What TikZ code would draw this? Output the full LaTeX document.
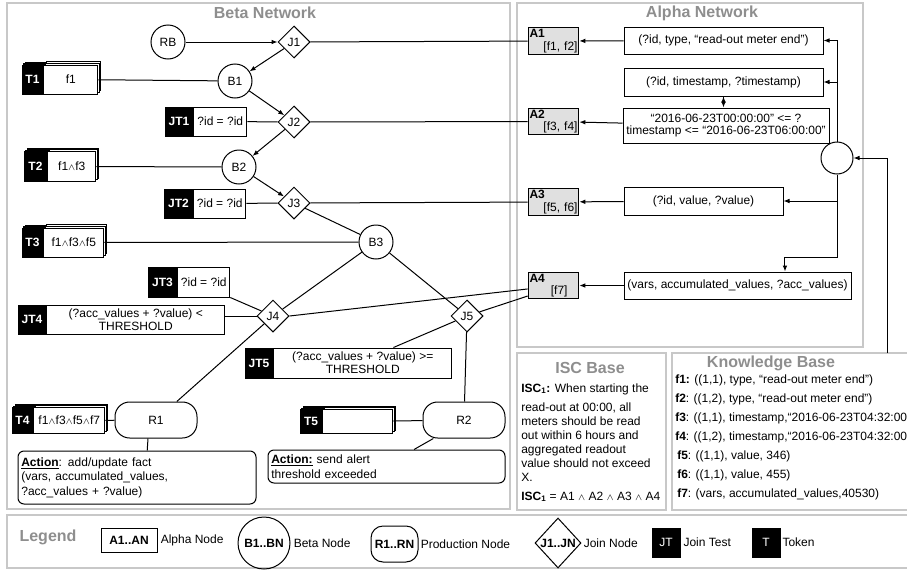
\documentclass[tikz,border=0pt]{standalone}
\usepackage{fontspec}
\setmainfont{Liberation Sans}
\usetikzlibrary{arrows.meta, positioning, shapes.geometric, shadows}
\definecolor{framegray}{HTML}{C8C8C8}
\definecolor{titlegray}{HTML}{8E8E8E}
\definecolor{alphafill}{HTML}{E0E0E0}
\newcommand{\andsym}{{\fontsize{7}{7}\selectfont$\wedge$}}

\begin{document}
\begin{tikzpicture}[x=0.75pt, y=-0.75pt, font=\fontsize{9}{10.5}\selectfont]
                \tikzstyle{frame} = [draw=framegray, line width=1pt];
                \tikzstyle{title} = [font=\fontsize{12}{14}\selectfont\bfseries, text=titlegray];
                \tikzstyle{wire} = [line width=0.75pt];
                \tikzstyle{arr} = [-{Latex[length=4.5pt,width=3.5pt]}, line width=0.75pt];
                \tikzstyle{bnode} = [shape=circle, draw, line width=0.75pt, minimum size=25.5pt, inner sep=0pt];
                \tikzstyle{jnode} = [shape=diamond, draw, line width=0.75pt, minimum size=24pt, inner sep=0pt];
                \tikzstyle{pnode} = [shape=rectangle, draw, line width=0.75pt, rounded corners=11pt, minimum width=61.5pt, minimum height=27pt];
                \tikzstyle{anode} = [shape=rectangle, draw, fill=alphafill, line width=0.75pt, inner sep=1pt, text width=36pt, minimum height=19.5pt, align=left, font=\fontsize{9}{9.5}\selectfont];
                \tikzstyle{filter} = [shape=rectangle, draw, line width=0.75pt, inner sep=1pt, align=center];
                \tikzstyle{lab} = [shape=rectangle, draw=black, fill=black, text=white, inner sep=0pt, font=\fontsize{9}{10.5}\selectfont\bfseries];
                \tikzstyle{tok} = [shape=rectangle, draw, fill=white, line width=0.75pt, inner sep=1pt, align=center, font=\fontsize{9}{10}\selectfont];
                \tikzstyle{stack} = [double copy shadow={shadow xshift=1.2pt, shadow yshift=1.2pt}];
                \tikzstyle{action} = [shape=rectangle, draw, line width=0.75pt, rounded corners=4.5pt, align=left, inner sep=2.5pt, font=\fontsize{9}{10.9}\selectfont];
                \tikzstyle{legtext} = [inner sep=0pt];

                \useasboundingbox (0,0) rectangle (907,575);
                \clip (0,0) rectangle (907,575);

                \draw[frame] (7,3) rectangle (510,509);
                \draw[frame] (517,3) rectangle (863,347);
                \draw[frame] (517,353) rectangle (666,510);
                \draw[frame] (672,353) rectangle (915,510);
                \draw[frame] (7,515) rectangle (915,568);

                \node[title] (betaT) at (265,13) {Beta Network};
                \node[title] (alphaT) at (702,13) {Alpha Network};
                \node[title] (iscT) at (590,368) {ISC Base};
                \node[title] (kbT) at (771,363) {Knowledge Base};
                \node[title] (legT) at (48,537) {Legend};

                \node[bnode](RB) at (168,42) {RB};
                \node[jnode](J1) at (294,42) {J1};
                \node[bnode](B1) at (235,81) {B1};
                \node[jnode](J2) at (294,122) {J2};
                \node[bnode](B2) at (239,167) {B2};
                \node[jnode](J3) at (294,203) {J3};
                \node[bnode](B3) at (376,242) {B3};
                \node[jnode](J4) at (273,316) {J4};
                \node[jnode](J5) at (467,316) {J5};
                \node[pnode](R1) at (156,420) {R1};
                \node[pnode](R2) at (464,420) {R2};

                \node[lab, stack, minimum width=15.75pt, minimum height=21.75pt](T1lab) at (32.5,79.5) {T1};
                \node[tok, stack, minimum width=40.5pt, minimum height=21.75pt, right=0pt of T1lab](T1) {f1};
                \node[lab, stack, minimum width=17.25pt, minimum height=22.5pt](T2lab) at (35.5,166.5) {T2};
                \node[tok, stack, minimum width=36pt, minimum height=22.5pt, right=0pt of T2lab](T2) {f1\andsym f3};
                \node[lab, stack, minimum width=15.75pt, minimum height=21.75pt](T3lab) at (32.5,242.5) {T3};
                \node[tok, stack, minimum width=45pt, minimum height=21.75pt, right=0pt of T3lab](T3) {f1\andsym f3\andsym f5};
                \node[lab, stack, minimum width=15.75pt, minimum height=19.5pt](T4lab) at (22.5,420.5) {T4};
                \node[tok, stack, minimum width=53.25pt, minimum height=19.5pt, right=0pt of T4lab](T4) {f1\andsym f3\andsym f5\andsym f7};
                \node[lab, stack, minimum width=16.5pt, minimum height=18pt](T5lab) at (311,421.5) {T5};
                \node[tok, stack, minimum width=52.5pt, minimum height=18pt, right=0pt of T5lab](T5) {};

                \node[lab, minimum width=21pt, minimum height=21.75pt](JT1lab) at (179,121.5) {JT1};
                \node[tok, minimum width=39.75pt, minimum height=21.75pt, right=0pt of JT1lab](JT1) {?id = ?id};
                \node[lab, minimum width=21.75pt, minimum height=21.75pt](JT2lab) at (178.5,203.5) {JT2};
                \node[tok, minimum width=39pt, minimum height=21.75pt, right=0pt of JT2lab](JT2) {?id = ?id};
                \node[lab, minimum width=21.75pt, minimum height=22.5pt](JT3lab) at (162.5,282) {JT3};
                \node[tok, minimum width=39pt, minimum height=22.5pt, right=0pt of JT3lab](JT3) {?id = ?id};
                \node[lab, minimum width=21pt, minimum height=21.75pt](JT4lab) at (32,319.5) {JT4};
                \node[tok, minimum width=133.5pt, minimum height=21.75pt, right=0pt of JT4lab](JT4) {(?acc\_values + ?value) <\\THRESHOLD};
                \node[lab, minimum width=21pt, minimum height=22.5pt](JT5lab) at (259,363) {JT5};
                \node[tok, minimum width=133.5pt, minimum height=22.5pt, right=0pt of JT5lab](JT5) {(?acc\_values + ?value) >=\\THRESHOLD};

                \node[action, text width=173.5pt, minimum height=39.75pt](Act1) at (137,477.5) {\underline{\textbf{Action}}: add/update fact\\(vars, accumulated\_values,\\?acc\_values + ?value)};
                \node[action, text width=172.75pt, minimum height=24.75pt](Act2) at (386.5,466.5) {\underline{\textbf{Action:}} send alert\\threshold exceeded};

                \node[anode](A1) at (553.5,41) {\textbf{A1}\\\hspace*{\fill}[f1, f2]};
                \node[anode](A2) at (553.5,121.5) {\textbf{A2}\\\hspace*{\fill}[f3, f4]};
                \node[anode](A3) at (553.5,202) {\textbf{A3}\\\hspace*{\fill}[f5, f6]};
                \node[anode](A4) at (553.5,285.5) {\textbf{A4}\\\hspace*{16pt}[f7]};

                \node[filter, minimum width=149.25pt, minimum height=20.25pt](F1) at (723.5,40.5) {(?id, type, “read-out meter end”)};
                \node[filter, minimum width=149.25pt, minimum height=21pt](F2) at (723.5,82) {(?id, timestamp, ?timestamp)};
                \node[filter, minimum width=154.5pt, minimum height=26.25pt, font=\fontsize{9}{9.5}\selectfont](F2c) at (726,125.5) {“2016-06-23T00:00:00” <= ?\\timestamp <= “2016-06-23T06:00:00”};
                \node[filter, minimum width=119.25pt, minimum height=21pt](F3) at (703.5,201) {(?id, value, ?value)};
                \node[filter, minimum width=170.25pt, minimum height=20.25pt](F4) at (737.5,285.5) {(vars, accumulated\_values, ?acc\_values)};
                \node[bnode, minimum size=24pt](root) at (837,158) {};
                \coordinate (kbin) at (887,353);

                \draw[arr]
                    (RB) edge (J1)
                    (J1) edge (B1)
                    (B1) edge (J2)
                    (J2) edge (B2)
                    (B2) edge (J3)

                    (F1) edge (A1)
                    (F2.south) edge (F2.south |- F2c.north)
                    (F2c) edge (A2)
                    (F3) edge (A3)
                    (F4) edge (A4)
                ;
                \draw[arr] (root.north) |- (F1.east);
                \draw[arr] (root.north |- F2.east) -- (F2.east);
                \draw[arr] (root.south |- F3.east) -- (F3.east);
                \draw[arr] (root.south) |- ([xshift=35.6pt, yshift=10.5pt]F4.north) -- ([xshift=35.6pt]F4.north);
                \draw[arr] (kbin) |- (root.east);

                \draw[wire]
                    (J1) edge (A1)
                    (J2) edge (A2)
                    (J3) edge (A3)
                    (J4.east) edge ([yshift=-2.6pt]A4.west)
                    (J5) edge ([yshift=-7.9pt]A4.west)

                    (T1) edge (B1)
                    (JT1) edge (J2)
                    (T2) edge (B2)
                    (JT2) edge (J3)
                    (J3) edge (B3)
                    (T3) edge (B3)
                    (B3) edge (J4)
                    (B3) edge (J5)
                    (JT3.south east) edge (J4)
                    (J4.west) edge (J4.west -| JT4.east)
                    ([xshift=23pt]JT5.north) edge (J5)
                    (J4) edge (R1)
                    (J5) edge (R2)
                    (T4) edge (R1)
                    (T5) edge (R2)
                    ([xshift=-6pt]R1.south) edge ([xshift=-6.6pt]R1.south |- Act1.north)
                    ([xshift=-23pt]R2.south) edge ([xshift=-37.5pt]R2.south |- Act2.north)
                ;

                \node[anchor=north west, align=left, inner sep=0pt](isc) at (521,383.5) {\textbf{ISC\textsubscript{1}:} When starting the\\[3.7pt]
                    read-out at 00:00, all\\
                    meters should be read\\
                    out within 6 hours and\\
                    aggregated readout\\
                    value should not exceed\\
                    X.\\[3.7pt]
                    \textbf{ISC\textsubscript{1}} = A1 \andsym{} A2 \andsym{} A3 \andsym{} A4};

                \node[anchor=north west, align=left, inner sep=0pt, font=\fontsize{9}{14.25}\selectfont](kb) at (675,374.5) {\textbf{f1:} ((1,1), type, “read-out meter end”)\\
                    \textbf{f2}: ((1,2), type, “read-out meter end”)\\
                    \textbf{f3}: ((1,1), timestamp,“2016-06-23T04:32:00”\\
                    \textbf{f4}: ((1,2), timestamp,“2016-06-23T04:32:00”\\
                    \hspace*{1.5pt}\textbf{f5}: ((1,1), value, 346)\\
                    \hspace*{1.5pt}\textbf{f6}: ((1,1), value, 455)\\
                    \hspace*{1.5pt}\textbf{f7}: (vars, accumulated\_values,40530)};

                \node[shape=rectangle, draw, line width=0.75pt, minimum width=42pt, minimum height=18pt, inner sep=0pt](legA) at (129,540) {\textbf{A1..AN}};
                \node[legtext, right=2.25pt of legA](legAt) {Alpha Node};
                \node[bnode, minimum size=39pt](legB) at (264,543) {\textbf{B1..BN}};
                \node[legtext, right=2.25pt of legB](legBt) {Beta Node};
                \node[pnode, rounded corners=9pt, minimum width=35.25pt, minimum height=27pt, inner sep=0pt](legR) at (394.5,544) {\textbf{R1..RN}};
                \node[legtext, right=1.5pt of legR](legRt) {Production Node};
                \node[jnode, minimum width=34.5pt, minimum height=37.5pt](legJ) at (558,543) {\makebox[0pt]{\textbf{J1..JN}}};
                \node[legtext, right=1.5pt of legJ](legJt) {Join Node};
                \node[lab, font=\fontsize{9}{10.5}\selectfont, minimum width=21pt, minimum height=21.75pt](legJT) at (666,542.5) {JT};
                \node[legtext, right=2.25pt of legJT](legJTt) {Join Test};
                \node[lab, font=\fontsize{9}{10.5}\selectfont, minimum width=21pt, minimum height=21.75pt](legTk) at (766,542.5) {T};
                \node[legtext, right=1.5pt of legTk](legTkt) {Token};
            \end{tikzpicture}
\end{document}
